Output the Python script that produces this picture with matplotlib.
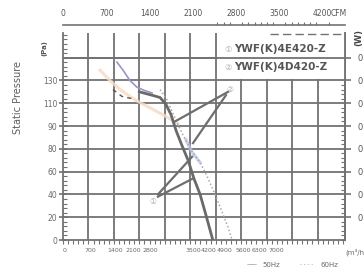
import matplotlib
matplotlib.use("Agg")
import matplotlib.pyplot as plt
from matplotlib.patches import Rectangle
from matplotlib.ticker import FixedLocator, MultipleLocator

plt.rcParams['font.family'] = ['DejaVu Sans', 'Noto Sans CJK SC']

# --- data (flow in m3/h, static pressure in Pa) ---
flow_50hz = [2100, 2450, 2670, 2830, 2970, 3110, 3270, 3440, 3600, 3770, 3930, 4120]
pres_50hz = [130, 127, 125, 119, 110, 96, 83, 70, 54, 40, 22, 0]

flow_60hz = [2670, 2860, 3080, 3300, 3520, 3770, 3960, 4180, 4370, 4540, 4650]
pres_60hz = [132, 123, 107, 92, 79, 68, 56, 40, 25, 11, 0]

flow_60hz_start = [1375, 1620, 1900]
pres_60hz_start = [132, 126, 124]

flow_purple = [1485, 1650, 1840, 2035, 2255, 2450]
pres_purple = [156, 149, 140, 134, 131, 129]

flow_orange = [1020, 1290, 1570, 1980, 2390, 2800, 3160]
pres_orange = [149, 140, 132, 123, 116, 109, 102]

flow_blue = [3380, 3550, 3770]
pres_blue = [88, 77, 68]

# leader lines from the model markers to the curves
lead2_flow = [[4540, 3080], [4480, 3575]]
lead2_pres = [[130, 104], [127, 85]]
lead1_flow = [[2610, 3550], [2610, 3575]]
lead1_pres = [[40, 73], [38, 54]]
marker_flow = [2475, 4595]
marker_pres = [34, 132]
marker_text = ['①', '②']

# axes / tick labels
grid_flow = [0, 700, 1400, 2100, 2800, 3500, 4200, 4900, 5600, 6300, 7000]
grid_pres = [0, 20, 40, 60, 80, 100, 120, 140, 160]
ytick_pos = [0, 20, 40, 60, 80, 100, 120, 140]
ytick_labels = ['0', '20', '40', '60', '80', '90', '110', '130']
xlabel_pos = [55, 743, 1430, 1925, 2393, 3575, 4015, 4455, 4950, 5400, 5860]
xlabel_text = ['0', '700', '1400', '2100', '2800', '3500', '4200', '4900', '5600', '6300', '7000']
cfm_ticks = [0, 700, 1400, 2100, 2800, 3500, 4200]
right_ticks = [20, 40, 60, 80, 100, 120, 140, 160]
legend_models = ['YWF(K)4E420-Z', 'YWF(K)4D420-Z']

GRID = '#727272'
TXT = '#6a6a6a'

fig = plt.figure(figsize=(3.64, 2.75), dpi=100)
ax = fig.add_axes([63 / 364, 35 / 275, 282 / 364, 207 / 275])
ax.set_xlim(0, 7755)
ax.set_ylim(0, 181.6)

# grid
ax.vlines(grid_flow[1:], 0, 181.6, color=GRID, lw=1.3, zorder=1)
ax.hlines(grid_pres[1:], 0, 7755, color=GRID, lw=1.3, zorder=1)
# legend area is blank in the scan
ax.add_patch(Rectangle((4260, 141), 3495, 41, facecolor='white', edgecolor='none', zorder=1.5))
ax.hlines([160], 0, 7755, color=GRID, lw=1.3, zorder=1.6)
ax.hlines([181], 5700, 7700, color=GRID, lw=1.0, linestyles=(0, (6, 3)), zorder=1.6)

# curves
ax.plot(flow_orange, pres_orange, color='#f6dcc6', lw=2.2, alpha=0.85, zorder=2)
ax.plot(flow_purple, pres_purple, color='#9a95c8', lw=1.2, zorder=3)
ax.plot(flow_blue, pres_blue, color='#c0c8ec', lw=2.3, alpha=0.8, zorder=2)
ax.plot(flow_60hz_start, pres_60hz_start, color='#555555', lw=1.0, ls=(0, (3, 3)), zorder=3)
ax.plot(flow_60hz, pres_60hz, color='#a8a8a8', lw=1.1, ls=(0, (1, 1.5)), zorder=3)
ax.plot(flow_50hz, pres_50hz, color='#6a6a6a', lw=2.0, zorder=4)

for fx, py in zip(lead2_flow + lead1_flow, lead2_pres + lead1_pres):
    ax.plot(fx, py, color='#6e6e6e', lw=1.6, zorder=4)
for fx, py, t in zip(marker_flow, marker_pres, marker_text):
    ax.text(fx, py, t, color='#a8a8a8', fontsize=5.5, ha='center', va='center', zorder=5)

# spines
for side in ['left', 'bottom', 'right']:
    ax.spines[side].set_color(GRID)
    ax.spines[side].set_linewidth(1.3)
ax.spines['top'].set_visible(False)

# left axis
ax.set_yticks(ytick_pos, ytick_labels)
ax.yaxis.set_minor_locator(MultipleLocator(4))
ax.tick_params(axis='y', which='major', direction='inout', length=6, width=1.2,
               color=GRID, labelsize=5.5, labelcolor=TXT, pad=1)
ax.tick_params(axis='y', which='minor', direction='in', length=3, width=0.8, color=GRID)

# bottom axis
ax.xaxis.remove_overlapping_locs = False
ax.set_xticks(xlabel_pos, xlabel_text)
ax.xaxis.set_minor_locator(MultipleLocator(140))
ax.tick_params(axis='x', which='major', length=0, labelsize=4.5, labelcolor=TXT, pad=6)
ax.tick_params(axis='x', which='minor', direction='out', length=3, width=0.8, color=GRID)

# right axis (labels cut off at the image edge)
rax = ax.secondary_yaxis('right')
rax.set_yticks(right_ticks, ['0'] * len(right_ticks))
rax.yaxis.set_minor_locator(MultipleLocator(4))
rax.tick_params(which='major', direction='out', length=4, width=1.2, color=GRID,
                labelsize=6, labelcolor='#555555', pad=5)
rax.tick_params(which='minor', direction='in', length=3, width=0.8, color=GRID)
rax.spines['right'].set_color(GRID)
rax.spines['right'].set_linewidth(1.3)

# top CFM axis
cax = ax.secondary_xaxis(1.039, functions=(lambda q: q / 1.699, lambda c: c * 1.699))
cax.set_xticks(cfm_ticks)
cax.xaxis.set_minor_locator(FixedLocator(range(2500, 4400, 100)))
cax.tick_params(which='major', length=0, labelsize=5.5, labelcolor='#555555', pad=5)
cax.tick_params(which='minor', direction='out', length=2.5, width=0.8, color=GRID)
cax.spines['top'].set_color(GRID)
cax.spines['top'].set_linewidth(1.2)

# texts
fig.text(18 / 364, 1 - 97 / 275, 'Static Pressure', rotation=90, ha='center', va='center',
         fontsize=7, color='#5e5e5e')
fig.text(44 / 364, 1 - 48 / 275, '(Pa)', rotation=90, ha='center', va='center',
         fontsize=5, color='#555555', fontweight='bold')
fig.text(339 / 364, 1 - 13 / 275, 'CFM', ha='center', va='center', fontsize=5.5, color='#555555')
fig.text(359 / 364, 1 - 38 / 275, '(W)', rotation=90, ha='center', va='center',
         fontsize=6, color='#444444', fontweight='bold')
fig.text(355 / 364, 1 - 252 / 275, '(m³/h', ha='center', va='center', fontsize=5, color=TXT)

for i, (mk, name) in enumerate(zip(marker_text, legend_models)):
    y = 1 - (49 + 18 * i) / 275
    fig.text(228 / 364, y, mk, ha='center', va='center', fontsize=6, color='#b0b0b0')
    fig.text(234 / 364, y, name, ha='left', va='center', fontsize=7.5,
             color='#555555', fontweight='bold')

fig.text(252 / 364, 1 - 265 / 275, '——', ha='center', va='center', fontsize=4, color='#555555')
fig.text(271 / 364, 1 - 265 / 275, '50Hz', ha='center', va='center', fontsize=5, color=TXT)
fig.text(307 / 364, 1 - 265 / 275, '- - - -', ha='center', va='center', fontsize=4,
         color='#888888')
fig.text(329 / 364, 1 - 265 / 275, '60Hz', ha='center', va='center', fontsize=5, color=TXT)

fig.savefig('out.png', dpi=100)
